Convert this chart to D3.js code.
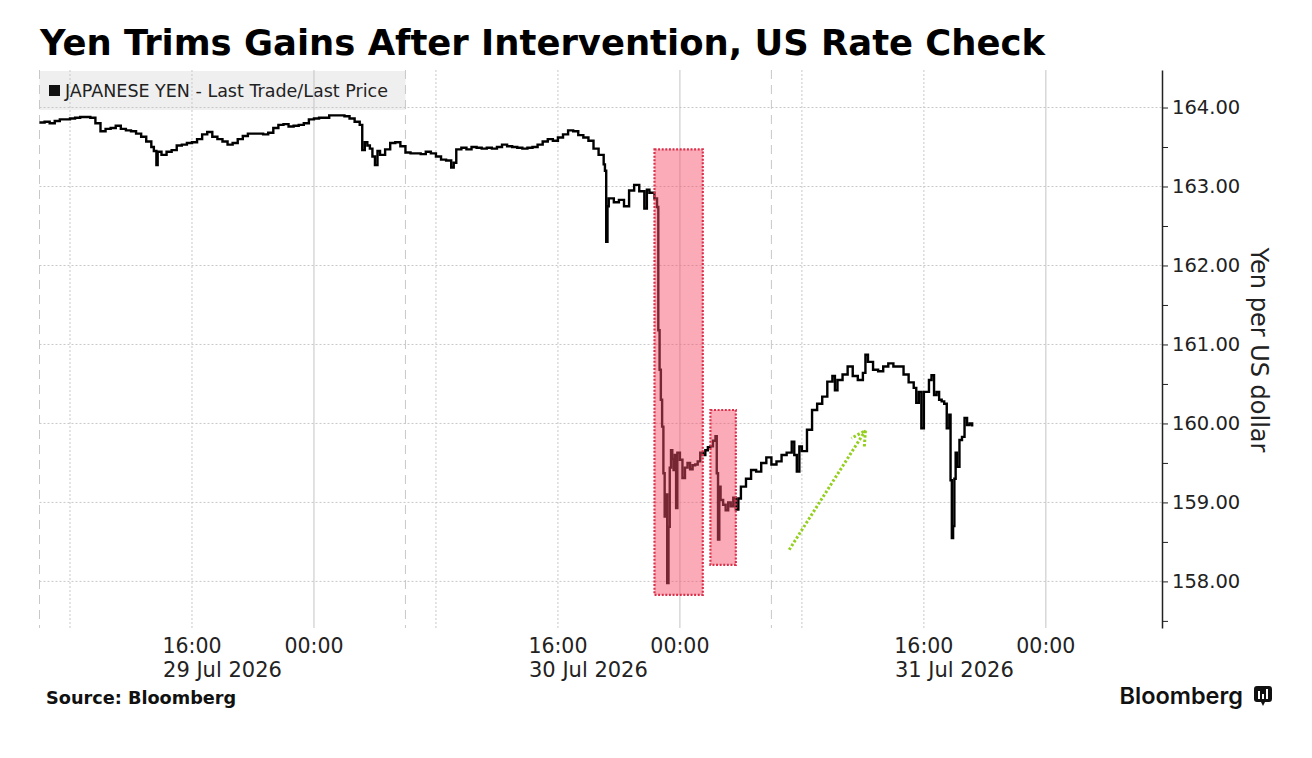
<!DOCTYPE html>
<html>
<head>
<meta charset="utf-8">
<script src="https://cdn.jsdelivr.net/npm/d3@7"></script>
<style>
  body { margin: 0; background: #fff; }
  text { font-family: "DejaVu Sans", sans-serif; }
</style>
</head>
<body>
<script>
// Yen per US dollar (step line, 29-31 Jul 2026)
var jul29Times = ["06:00","06:20","06:40","07:00","07:20","07:40","08:00",
    "08:20","08:40","09:00","09:20","09:40","10:00","10:20","10:40","11:00",
    "11:20","11:40","12:00","12:20","12:40","13:00","13:20","13:30","13:40",
    "13:45","14:00","14:20","14:40","15:00","15:20","15:40","16:00","16:20",
    "16:40","17:00","17:20","17:40","18:00","18:20","18:40","19:00","19:20",
    "19:40","20:00","20:20","20:40","21:00","21:20","21:40","22:00","22:20",
    "22:40","23:00","23:20","23:40"];
var jul29Prices = [163.81,163.82,163.80,163.83,163.85,163.85,163.86,
    163.87,163.88,163.88,163.87,163.80,163.70,163.73,163.74,163.77,
    163.73,163.71,163.70,163.67,163.63,163.57,163.50,163.45,163.27,
    163.44,163.40,163.44,163.46,163.52,163.53,163.55,163.56,163.60,
    163.66,163.69,163.63,163.60,163.57,163.53,163.55,163.60,163.64,
    163.67,163.67,163.67,163.66,163.68,163.74,163.78,163.79,163.76,
    163.77,163.78,163.80,163.85];

var jul30Times = ["00:00","00:20","00:40","01:00","01:20","01:40","02:00",
    "02:20","02:40","03:00","03:10","03:20","03:30","03:40","03:50","04:00",
    "04:10","04:20","04:40","05:00","05:20","05:40","06:00","06:20","06:40",
    "07:00","07:20","07:40","08:00","08:20","08:40","09:00","09:10","09:20",
    "09:40","10:00","10:20","10:40","11:00","11:20","11:40","12:00","12:20",
    "12:40","13:00","13:20","13:40","14:00","14:20","14:40","15:00","15:20",
    "15:40","16:00","16:20","16:40","17:00","17:20","17:40","18:00","18:20",
    "18:40","19:00","19:05","19:10","19:15","19:20","19:40","20:00","20:20",
    "20:40","21:00","21:20","21:40","21:50","22:00","22:20","22:30","22:35",
    "22:40","22:45","22:50","22:55","23:00","23:05","23:10","23:15","23:20",
    "23:25","23:30","23:35","23:40","23:45","23:50"];
var jul30Prices = [163.86,163.87,163.87,163.90,163.90,163.90,163.89,
    163.86,163.82,163.78,163.46,163.56,163.52,163.48,163.38,163.27,
    163.45,163.40,163.47,163.55,163.56,163.51,163.43,163.42,163.42,
    163.41,163.44,163.42,163.38,163.34,163.33,163.24,163.30,163.47,
    163.49,163.47,163.50,163.49,163.48,163.49,163.48,163.50,163.53,
    163.51,163.50,163.49,163.48,163.49,163.50,163.53,163.57,163.60,
    163.58,163.62,163.66,163.71,163.70,163.65,163.62,163.58,163.48,
    163.40,163.28,163.20,162.30,162.75,162.85,162.80,162.83,162.75,
    162.95,163.02,162.94,162.72,162.96,162.92,162.85,162.74,161.18,
    160.68,160.30,159.96,159.37,158.82,159.10,157.98,158.69,159.44,
    159.66,159.55,159.41,159.60,158.93,159.63];

var jul31Times = ["00:00","00:10","00:20","00:30","00:40","00:50","01:00",
    "01:10","01:20","01:30","01:40","01:50","02:00","02:10","02:20","02:25",
    "02:30","02:35","02:40","02:50","03:00","03:10","03:20","03:30","03:40",
    "03:50","04:00","04:20","04:40","05:00","05:20","05:40","06:00","06:20",
    "06:40","07:00","07:20","07:30","07:40","07:50","08:00","08:20","08:40",
    "09:00","09:20","09:40","10:00","10:10","10:20","10:40","11:00","11:20",
    "11:40","12:00","12:10","12:20","12:40","13:00","13:20","13:40","14:00",
    "14:20","14:40","15:00","15:20","15:30","15:40","15:50","16:00","16:20",
    "16:30","16:40","16:50","17:00","17:10","17:20","17:30","17:40","17:45",
    "17:50","17:55","18:00","18:05","18:10","18:20","18:30","18:40","18:50",
    "19:00","19:10"];
var jul31Prices = [159.54,159.31,159.44,159.50,159.42,159.47,159.48,
    159.52,159.63,159.60,159.66,159.70,159.71,159.78,159.84,159.37,
    158.53,159.20,159.03,158.97,158.90,159.00,158.95,159.06,158.91,
    159.05,159.20,159.30,159.41,159.39,159.50,159.57,159.48,159.52,
    159.60,159.63,159.77,159.60,159.39,159.71,159.65,159.92,160.17,
    160.25,160.34,160.53,160.60,160.42,160.55,160.62,160.72,160.60,
    160.55,160.64,160.87,160.78,160.68,160.66,160.72,160.76,160.72,
    160.72,160.62,160.52,160.45,160.26,160.40,159.94,160.40,160.55,
    160.61,160.36,160.40,160.30,160.28,160.25,159.94,160.11,159.28,
    158.55,158.70,159.30,159.63,159.45,159.79,159.83,160.07,159.98,
    160.00,159.96];

// Shaded intervention windows and the rebound arrow (data units)
var boxFrom = ["07-30 22:20", "07-31 02:00"];
var boxTo   = ["07-31 01:30", "07-31 03:40"];
var boxHigh = [163.47, 160.17];
var boxLow  = [157.83, 158.21];
var arrowTimes  = ["07-31 07:10", "07-31 12:10"];
var arrowPrices = [158.40, 159.91];

var yTicks = [157.5,158,158.5,159,159.5,160,160.5,161,161.5,162,162.5,
    163,163.5,164];
var gridValues = [158,159,160,161,162,163,164];
var dateLabels = ["07-29 18:00", "07-30 18:00", "07-31 18:00"];
var timeStart = "07-29 06:00", timeEnd = "08-01 07:37";
var priceMin = 157.41, priceMax = 164.475;

var parse = d3.timeParse("%Y-%m-%d %H:%M");
function when(s) { return parse("2026-" + s); }

var series = [];
[[ "07-29", jul29Times, jul29Prices ],
 [ "07-30", jul30Times, jul30Prices ],
 [ "07-31", jul31Times, jul31Prices ]].forEach(function(day) {
    day[1].forEach(function(t, i) {
        series.push({ date: when(day[0] + " " + t), price: day[2][i] });
    });
});

var W = 1312, H = 758;
var plotL = 39.5, plotR = 1162, plotT = 70, plotB = 628;

var svg = d3.select("body").append("svg")
    .attr("width", W)
    .attr("height", H);

var x = d3.scaleTime()
    .domain([when(timeStart), when(timeEnd)])
    .range([plotL, plotR]);
var y = d3.scaleLinear()
    .domain([priceMin, priceMax])
    .range([plotB, plotT]);

//Title
svg.append("text")
    .attr("x", 40)
    .attr("y", 55)
    .style("font-size", "35.4px")
    .style("font-weight", "bold")
    .attr("fill", "#000")
    .text("Yen Trims Gains After Intervention, US Rate Check");

//Legend box sits under the grid
svg.append("rect")
    .attr("x", plotL)
    .attr("y", plotT + 1)
    .attr("width", 366)
    .attr("height", 39)
    .attr("fill", "#efefef");
svg.append("rect")
    .attr("x", 49)
    .attr("y", 85)
    .attr("width", 11)
    .attr("height", 11)
    .attr("fill", "#111");
svg.append("text")
    .attr("x", 65)
    .attr("y", 97)
    .style("font-size", "17.5px")
    .attr("fill", "#222")
    .text("JAPANESE YEN - Last Trade/Last Price");

//Horizontal grid
svg.append("g").selectAll("line")
    .data(gridValues)
    .enter().append("line")
    .attr("x1", plotL)
    .attr("x2", plotR)
    .attr("y1", function(d) { return y(d); })
    .attr("y2", function(d) { return y(d); })
    .attr("stroke", "#c8c8c8")
    .attr("stroke-dasharray", "2,2");

//Vertical grid: solid at midnight, dashed at 06:00, dotted at 08:00/16:00
var lastDate = series[series.length - 1].date;
var hours = d3.timeHour.range(x.domain()[0], d3.timeMinute.offset(
    x.domain()[1], 1)).filter(function(d) {
        var h = d.getHours();
        if (h === 6) return d < lastDate;
        return h === 0 || h === 8 || h === 16;
    });
svg.append("g").selectAll("line")
    .data(hours)
    .enter().append("line")
    .attr("x1", function(d) { return x(d); })
    .attr("x2", function(d) { return x(d); })
    .attr("y1", plotT)
    .attr("y2", plotB)
    .attr("stroke", function(d) {
        return d.getHours() === 0 ? "#c4c4c4" : "#c8c8c8";
    })
    .attr("stroke-dasharray", function(d) {
        var h = d.getHours();
        if (h === 0) return null;
        if (h === 6) return "9,6";
        return "2,2";
    });

//Price line
var line = d3.line()
    .curve(d3.curveStepAfter)
    .x(function(d) { return x(d.date); })
    .y(function(d) { return y(d.price); });

svg.append("path")
    .datum(series)
    .attr("d", line)
    .attr("fill", "none")
    .attr("stroke", "#000")
    .attr("stroke-width", 2.4);

//Intervention boxes
svg.append("g").selectAll("rect")
    .data(boxFrom)
    .enter().append("rect")
    .attr("x", function(d) { return x(when(d)); })
    .attr("y", function(d, i) { return y(boxHigh[i]); })
    .attr("width", function(d, i) {
        return x(when(boxTo[i])) - x(when(d));
    })
    .attr("height", function(d, i) {
        return y(boxLow[i]) - y(boxHigh[i]);
    })
    .attr("fill", "rgba(244, 80, 104, 0.48)")
    .attr("stroke", "#dc2f4a")
    .attr("stroke-width", 2.2)
    .attr("stroke-dasharray", "2,1.6");

//Rebound arrow
var ax0 = x(when(arrowTimes[0])), ay0 = y(arrowPrices[0]);
var ax1 = x(when(arrowTimes[1])), ay1 = y(arrowPrices[1]);
var ang = Math.atan2(ay1 - ay0, ax1 - ax0);
var arm = 16;
var arrow = svg.append("g")
    .attr("fill", "none")
    .attr("stroke", "#93cf1c")
    .attr("stroke-width", 3)
    .attr("stroke-dasharray", "2.5,2");
arrow.append("line")
    .attr("x1", ax0).attr("y1", ay0)
    .attr("x2", ax1).attr("y2", ay1);
arrow.append("path")
    .attr("d", "M" + (ax1 - arm * Math.cos(ang - 0.5)) + ","
        + (ay1 - arm * Math.sin(ang - 0.5)) + "L" + ax1 + "," + ay1
        + "L" + (ax1 - arm * Math.cos(ang + 0.5)) + ","
        + (ay1 - arm * Math.sin(ang + 0.5)));

//Right axis
var yAxis = d3.axisRight(y)
    .tickValues(yTicks)
    .tickSize(6)
    .tickSizeOuter(0)
    .tickFormat(function(d) {
        return d % 1 === 0 ? d3.format(".2f")(d) : "";
    });
var ya = svg.append("g")
    .attr("transform", "translate(" + plotR + ",0)")
    .call(yAxis);
ya.select(".domain").attr("stroke", "#222").attr("stroke-width", 1.5);
ya.selectAll(".tick line").attr("stroke", "#222");
ya.selectAll(".tick text")
    .attr("x", 10)
    .style("font-size", "19.5px")
    .style("font-family", "DejaVu Sans")
    .attr("fill", "#222");

svg.append("text")
    .attr("transform", "translate(1251,350) rotate(90)")
    .attr("text-anchor", "middle")
    .style("font-size", "24px")
    .attr("fill", "#222")
    .text("Yen per US dollar");

//Time labels
var timeTicks = hours.filter(function(d) {
    return d.getHours() === 0 || d.getHours() === 16;
});
svg.append("g").selectAll("text")
    .data(timeTicks)
    .enter().append("text")
    .attr("x", function(d) { return x(d); })
    .attr("y", 653)
    .attr("text-anchor", "middle")
    .style("font-size", "20.5px")
    .attr("fill", "#222")
    .text(d3.timeFormat("%H:%M"));

svg.append("g").selectAll("text")
    .data(dateLabels)
    .enter().append("text")
    .attr("x", function(d) { return x(when(d)); })
    .attr("y", 677)
    .attr("text-anchor", "middle")
    .style("font-size", "21px")
    .attr("fill", "#222")
    .text(function(d) { return d3.timeFormat("%-d %b %Y")(when(d)); });

//Footer
svg.append("text")
    .attr("x", 46)
    .attr("y", 704)
    .style("font-size", "17.7px")
    .style("font-weight", "bold")
    .attr("fill", "#111")
    .text("Source: Bloomberg");

svg.append("text")
    .attr("x", 1243)
    .attr("y", 704)
    .attr("text-anchor", "end")
    .style("font-family", "Inter")
    .style("font-size", "23.5px")
    .style("font-weight", "600")
    .attr("fill", "#111")
    .text("Bloomberg");

var logo = svg.append("g").attr("transform", "translate(1254,686)");
logo.append("path")
    .attr("d", "M3,0H15Q18,0 18,3V13Q18,16 15,16H11L9,20L7,16H3Q0,16 0,13V3"
        + "Q0,0 3,0Z")
    .attr("fill", "#111");
logo.selectAll("rect")
    .data([[4, 5, 8], [8, 8, 5], [12, 3, 10]])
    .enter().append("rect")
    .attr("x", function(d) { return d[0]; })
    .attr("y", function(d) { return d[1]; })
    .attr("width", 2)
    .attr("height", function(d) { return d[2]; })
    .attr("fill", "#fff");
</script>
</body>
</html>
